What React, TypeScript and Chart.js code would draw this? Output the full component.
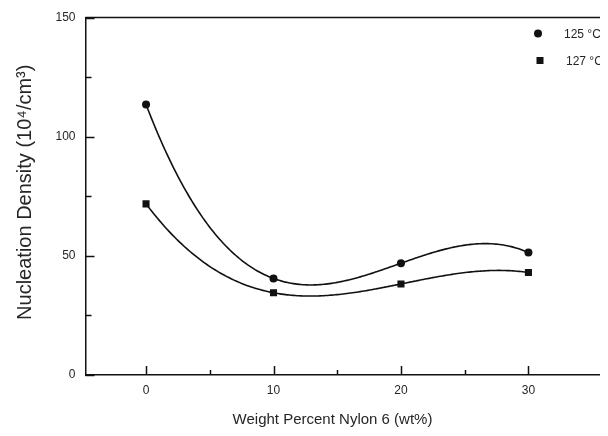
import React, { useEffect, useRef } from "react";
import { Chart, registerables } from "chart.js";

Chart.register(...registerables);

// ---- data ----
const weightPercent = [0, 10, 20, 30];
const density125 = [113.5, 40.5, 46.9, 51.4];
const density127 = [71.8, 34.5, 38.2, 43.0];
const seriesLabels = ["125 °C", "127 °C"];

const xTicks = [0, 10, 20, 30];
const xMinorTicks = [5, 15, 25];
const yTicks = [0, 50, 100, 150];
const yMinorTicks = [25, 75, 125];
const xRange = [-4.75, 35.85];
const yRange = [0, 150];

const xTitle = "Weight Percent Nylon 6 (wt%)";
const yTitle = "Nucleation Density (10⁴/cm³)";

const FONT = "'Liberation Sans', Arial, Helvetica, sans-serif";
const TEXT = "#262626";
const INK = "#111111";

// Smooth interpolating curve through each series' points (drawn from data via the chart scales)
const curvePlugin = {
  id: "polyCurve",
  beforeDatasetsDraw(chart: any) {
    const { ctx, scales } = chart;
    const xs = scales.x;
    const ys = scales.y;
    chart.data.datasets.forEach((ds: any) => {
      const pts = ds.data as { x: number; y: number }[];
      const n = pts.length;
      const lag = (t: number) => {
        let s = 0;
        for (let i = 0; i < n; i++) {
          let l = 1;
          for (let j = 0; j < n; j++) {
            if (j !== i) l *= (t - pts[j].x) / (pts[i].x - pts[j].x);
          }
          s += l * pts[i].y;
        }
        return s;
      };
      const a = pts[0].x;
      const b = pts[n - 1].x;
      const steps = 200;
      ctx.save();
      ctx.beginPath();
      for (let k = 0; k <= steps; k++) {
        const t = a + ((b - a) * k) / steps;
        const px = xs.getPixelForValue(t);
        const py = ys.getPixelForValue(lag(t));
        if (k === 0) ctx.moveTo(px, py);
        else ctx.lineTo(px, py);
      }
      ctx.strokeStyle = INK;
      ctx.lineWidth = 1.6;
      ctx.lineJoin = "round";
      ctx.stroke();
      ctx.restore();
    });
  },
};

// Top frame line, inward tick marks and the axis titles
const frameTicksPlugin = {
  id: "frameTicks",
  afterDraw(chart: any) {
    const { ctx, chartArea: a, scales } = chart;
    const xs = scales.x;
    const ys = scales.y;
    ctx.save();
    ctx.strokeStyle = INK;
    ctx.lineWidth = 1.5;
    ctx.beginPath();
    ctx.moveTo(a.left, a.top);
    ctx.lineTo(a.right, a.top);
    xTicks.forEach((v) => {
      const p = Math.round(xs.getPixelForValue(v)) + 0.5;
      ctx.moveTo(p, a.bottom);
      ctx.lineTo(p, a.bottom - 9);
    });
    xMinorTicks.forEach((v) => {
      const p = Math.round(xs.getPixelForValue(v)) + 0.5;
      ctx.moveTo(p, a.bottom);
      ctx.lineTo(p, a.bottom - 5);
    });
    yTicks.forEach((v) => {
      const p = Math.round(ys.getPixelForValue(v)) + 0.5;
      ctx.moveTo(a.left, p);
      ctx.lineTo(a.left + 9, p);
    });
    yMinorTicks.forEach((v) => {
      const p = Math.round(ys.getPixelForValue(v)) + 0.5;
      ctx.moveTo(a.left, p);
      ctx.lineTo(a.left + 6, p);
    });
    ctx.stroke();

    ctx.fillStyle = TEXT;
    ctx.textAlign = "center";
    ctx.textBaseline = "middle";
    ctx.font = `15px ${FONT}`;
    ctx.fillText(xTitle, a.left + 247, xs.bottom - 16);

    ctx.font = `20px ${FONT}`;
    ctx.translate(17, (a.top + a.bottom) / 2 - 4);
    ctx.rotate(-Math.PI / 2);
    ctx.fillText(yTitle, 0, 0);
    ctx.restore();
  },
};

// Legend inside the plot, top right
const legendPlugin = {
  id: "insideLegend",
  afterDraw(chart: any) {
    const { ctx, chartArea: a } = chart;
    ctx.save();
    ctx.font = `12px ${FONT}`;
    ctx.textBaseline = "middle";
    ctx.textAlign = "left";
    chart.data.datasets.forEach((ds: any, i: number) => {
      const mx = a.right - 65 + i * 2;
      const my = a.top + 16 + i * 27;
      ctx.fillStyle = INK;
      ctx.beginPath();
      if (ds.pointStyle === "rect") {
        ctx.rect(mx - 3.5, my - 3.5, 7, 7);
      } else {
        ctx.arc(mx, my, 4, 0, Math.PI * 2);
      }
      ctx.fill();
      ctx.fillStyle = TEXT;
      ctx.fillText(ds.label, mx + 26, my + 1);
    });
    ctx.restore();
  },
};

export default function App() {
  const ref = useRef<HTMLCanvasElement | null>(null);

  useEffect(() => {
    if (!ref.current) return;
    const toPts = (ys: number[]) => weightPercent.map((x, i) => ({ x, y: ys[i] }));
    const chart = new Chart(ref.current, {
      type: "scatter",
      data: {
        datasets: [
          {
            label: seriesLabels[0],
            data: toPts(density125),
            pointStyle: "circle",
            pointRadius: 4,
            backgroundColor: INK,
            borderColor: INK,
            borderWidth: 0,
            showLine: false,
          },
          {
            label: seriesLabels[1],
            data: toPts(density127),
            pointStyle: "rect",
            pointRadius: 5,
            backgroundColor: INK,
            borderColor: INK,
            borderWidth: 0,
            showLine: false,
          },
        ],
      },
      options: {
        responsive: false,
        animation: false,
        events: [],
        layout: { padding: { top: 9.5, right: 0, left: 0, bottom: 0 } },
        plugins: {
          legend: { display: false },
          tooltip: { enabled: false },
          title: { display: false },
        },
        scales: {
          x: {
            type: "linear",
            min: xRange[0],
            max: xRange[1],
            afterBuildTicks: (s: any) => {
              s.ticks = xTicks.map((v) => ({ value: v }));
            },
            afterFit: (s: any) => {
              s.height = 61;
            },
            grid: { display: true, drawOnChartArea: false, drawTicks: false },
            border: { display: true, color: INK, width: 1.5 },
            ticks: {
              padding: 8,
              color: TEXT,
              font: { family: FONT, size: 12 },
              maxRotation: 0,
            },
            title: { display: false },
          },
          y: {
            type: "linear",
            min: yRange[0],
            max: yRange[1],
            afterBuildTicks: (s: any) => {
              s.ticks = yTicks.map((v) => ({ value: v }));
            },
            afterFit: (s: any) => {
              s.width = 77.5;
            },
            grid: {
              display: true,
              drawOnChartArea: false,
              drawTicks: true,
              tickLength: 8,
              tickColor: "rgba(0,0,0,0)",
            },
            border: { display: true, color: INK, width: 1.5 },
            ticks: {
              padding: 2,
              color: TEXT,
              font: { family: FONT, size: 12 },
            },
            title: { display: false },
          },
        },
      },
      plugins: [curvePlugin, frameTicksPlugin, legendPlugin],
    } as any);
    return () => chart.destroy();
  }, []);

  return <canvas ref={ref} width={600} height={428} style={{ display: "block" }} />;
}
